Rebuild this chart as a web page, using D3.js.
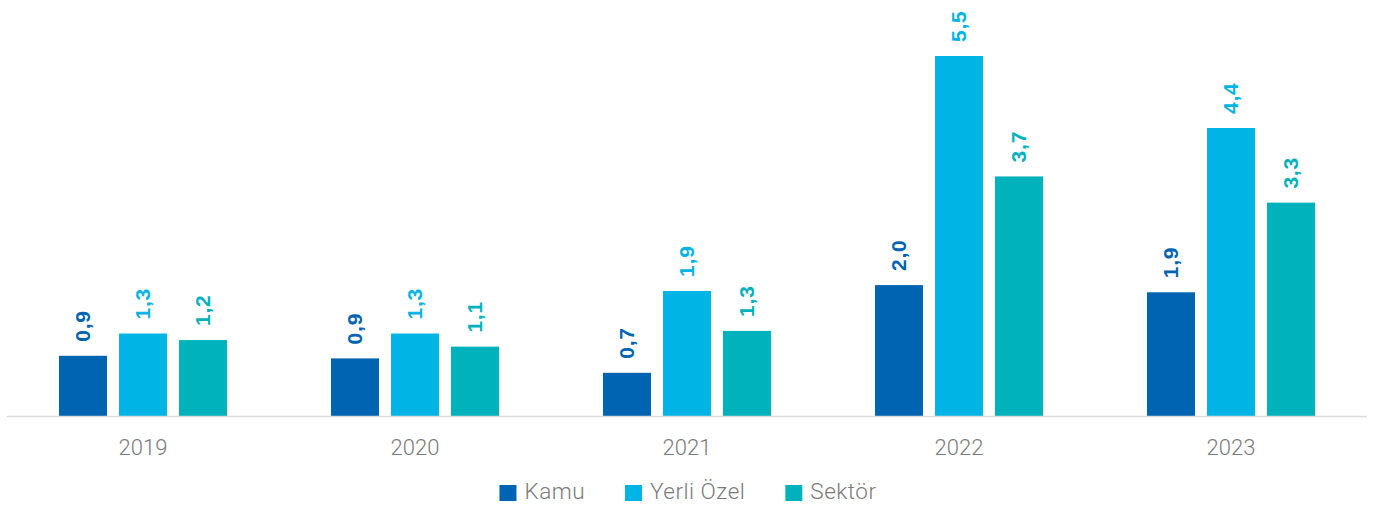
<!DOCTYPE html>
<html>
<head>
<meta charset="utf-8">
<script src="https://cdn.jsdelivr.net/npm/d3@7/dist/d3.min.js"></script>
<style>
  html, body { margin: 0; padding: 0; background: #fff; }
  svg { display: block; }
</style>
</head>
<body>
<svg id="chart" width="1383" height="511"></svg>
<script>
const years = ["2019", "2020", "2021", "2022", "2023"];
const seriesNames = ["Kamu", "Yerli Özel", "Sektör"];
const kamu = [0.92, 0.88, 0.66, 2.00, 1.89];
const yerliOzel = [1.26, 1.26, 1.91, 5.50, 4.40];
const sektor = [1.16, 1.06, 1.30, 3.66, 3.26];
const colors = ["#0064b3", "#00b4e6", "#00b2bc"];

const seriesValues = [kamu, yerliOzel, sektor];
const svg = d3.select("#chart");

const left = 7, right = 1367, baseY = 416, topY = 56;
const x0 = d3.scaleBand().domain(years).range([left, right]).padding(0);
const x1 = d3.scaleBand().domain(seriesNames).range([0, 168]).paddingInner(0.2).paddingOuter(0);
const y = d3.scaleLinear().domain([0, 5.5]).range([baseY, topY]);
const fmt = v => d3.format(".1f")(v).replace(".", ",");

const groups = svg.selectAll("g.year")
  .data(years)
  .join("g")
  .attr("class", "year")
  .attr("transform", d => `translate(${x0(d) + x0.bandwidth() / 2 - 84},0)`);

groups.each(function(yr, i) {
  const g = d3.select(this);
  const rows = seriesNames.map((s, k) => ({ s, k, v: seriesValues[k][i] }));
  g.selectAll("rect")
    .data(rows)
    .join("rect")
    .attr("x", d => x1(d.s))
    .attr("y", d => y(d.v))
    .attr("width", x1.bandwidth())
    .attr("height", d => y(0) - y(d.v))
    .attr("fill", d => colors[d.k]);
  g.selectAll("text.val")
    .data(rows)
    .join("text")
    .attr("class", "val")
    .attr("transform", d => `translate(${x1(d.s) + x1.bandwidth() / 2 + 7},${y(d.v) - 14}) rotate(-90)`)
    .attr("text-anchor", "start")
    .attr("font-family", "'Liberation Sans', Arial, sans-serif")
    .attr("font-weight", "bold")
    .attr("font-size", 21)
    .attr("letter-spacing", 0.8)
    .attr("fill", d => colors[d.k])
    .text(d => fmt(d.v));
});

// x axis
const axis = d3.axisBottom(x0).tickSize(0).tickPadding(0);
const ax = svg.append("g").attr("transform", `translate(0,${baseY + 0.5})`).call(axis);
ax.select(".domain").attr("stroke", "#dcdcdc").attr("stroke-width", 1.5).attr("d", `M${left},0H${right}`);
ax.selectAll(".tick text")
  .attr("y", 38)
  .attr("dy", 0)
  .attr("font-family", "Roboto, sans-serif")
  .attr("font-weight", 300)
  .attr("font-size", 22)
  .attr("fill", "#7a7a7a");

// legend
const legend = svg.append("g");
const items = legend.selectAll("g")
  .data(seriesNames)
  .join("g");
items.append("rect")
  .attr("width", 17).attr("height", 16)
  .attr("y", 485)
  .attr("fill", (d, i) => colors[i]);
items.append("text")
  .attr("x", 25)
  .attr("y", 499)
  .attr("font-family", "Roboto, sans-serif")
  .attr("font-weight", 300)
  .attr("font-size", 22.5)
  .attr("letter-spacing", 0.5)
  .attr("fill", "#7a7a7a")
  .text(d => d);
let widths = [];
items.each(function() { widths.push(25 + d3.select(this).select("text").node().getComputedTextLength()); });
const gap = 40;
const total = d3.sum(widths) + gap * (widths.length - 1);
let cx = (left + right) / 2 - total / 2 + 1;
items.attr("transform", (d, i) => { const t = `translate(${cx},0)`; cx += widths[i] + gap; return t; });
</script>
</body>
</html>
